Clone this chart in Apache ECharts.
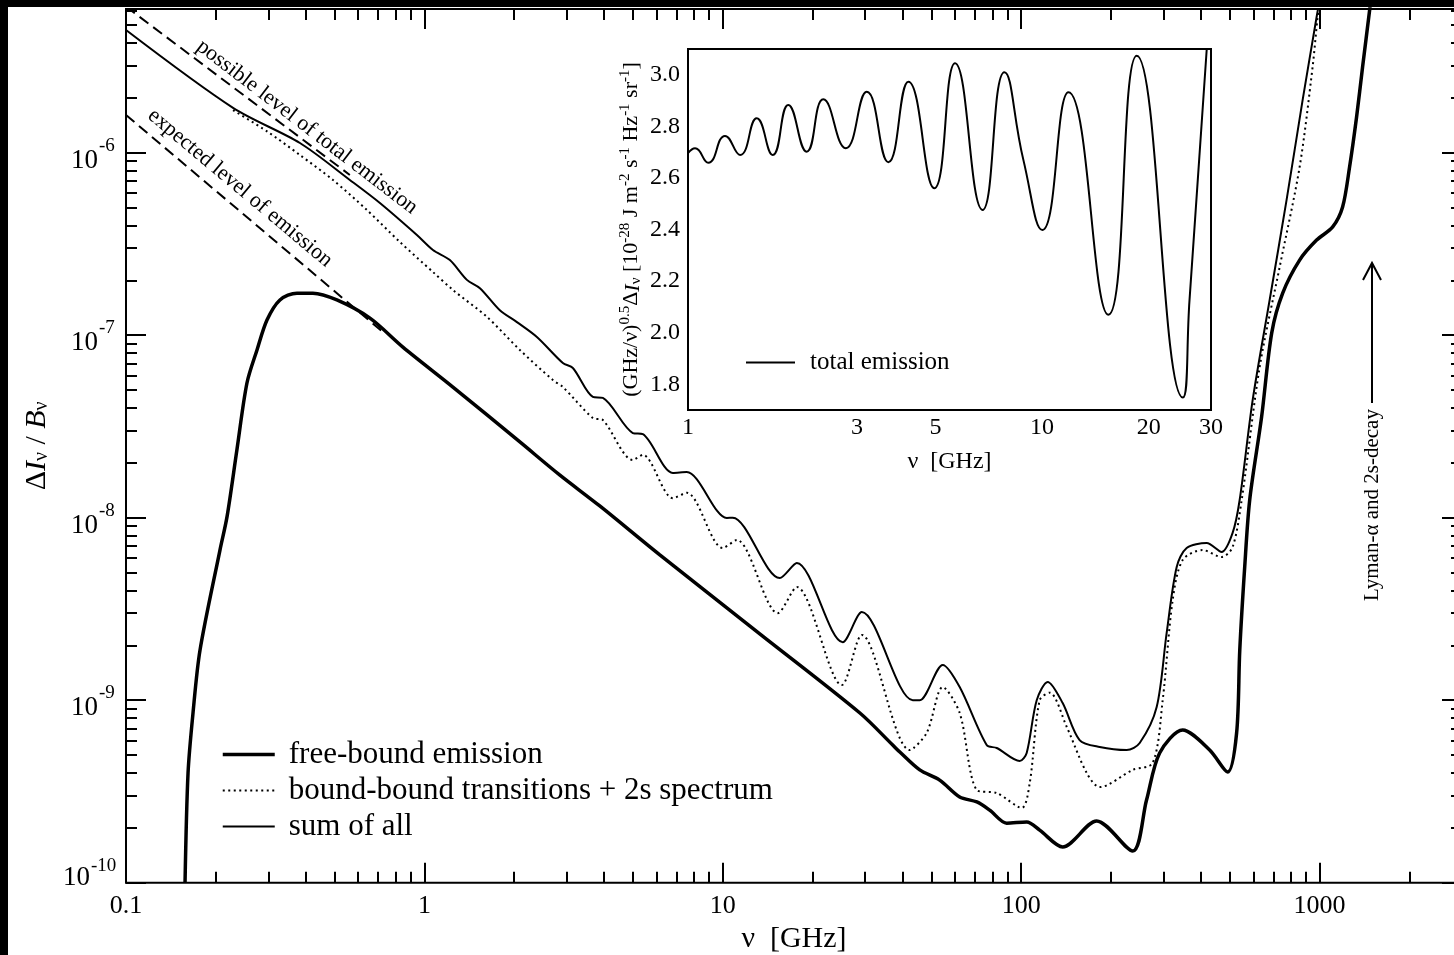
<!DOCTYPE html>
<html><head><meta charset="utf-8">
<script src="https://cdn.jsdelivr.net/npm/echarts@6/dist/echarts.min.js"></script>
<style>html,body{margin:0;padding:0;background:#fff}#c{width:1454px;height:955px}</style>
</head><body><div id="c"></div>
<script>
// ---------------- data ----------------
const fbFreq = [0.1577,0.1614,0.1677,0.177,0.2065,0.218,0.2353,0.2543,0.2748,0.2968,0.328,0.374,0.423,0.509,0.657,0.847,1.246,2.089,2.845,3.87,6.15,13.3,28.8,37.1,39.2,45.7,53.3,62.2,71.0,78.4,89.4,104.3,115.3,137.7,179,236.4,263,291,347.5,428,492,527,540,561,583,639,691,752,857,977,1106,1194,1260,1330,1393,1471,1500];
const fbVal = [1e-10,3.99e-10,8.5e-10,1.88e-9,6.65e-9,1.01e-8,2.35e-8,5.47e-8,8.3e-8,1.21e-7,1.56e-7,1.70e-7,1.70e-7,1.56e-7,1.24e-7,8.61e-8,5.20e-8,2.60e-8,1.71e-8,1.16e-8,6.25e-9,2.31e-9,8.51e-10,5.68e-10,5.20e-10,4.15e-10,3.65e-10,2.95e-10,2.77e-10,2.50e-10,2.12e-10,2.15e-10,1.94e-10,1.57e-10,2.18e-10,1.49e-10,2.84e-10,5.14e-10,6.87e-10,5.34e-10,4.04e-10,6.61e-10,1.88e-9,5.37e-9,1.25e-8,3.56e-8,1.03e-7,1.70e-7,2.58e-7,3.32e-7,3.92e-7,5.04e-7,8.35e-7,1.57e-6,2.95e-6,6.05e-6,8e-6];

const bbFreq = [0.2284,0.2968,0.3827,0.4938,0.642,0.8278,1.068,1.246,1.620,2.089,2.695,2.911,3.668,3.963,4.994,5.395,6.80,7.57,10.0,11.14,15.29,17.70,25.05,29.23,42.3,48.2,54.6,62.2,71.0,82.8,100.4,106.8,115.3,124.6,142.1,165.8,183.2,236.4,275.8,297.9,321.8,347.5,405.5,469.6,511,548,629.5,734.5,857,947.3,984.7,1000];
const bbVal = [1.71e-6,1.31e-6,9.71e-7,7.09e-7,4.85e-7,3.24e-7,2.22e-7,1.77e-7,1.26e-7,8.30e-8,5.68e-8,5.20e-8,3.52e-8,3.43e-8,2.07e-8,2.21e-8,1.28e-8,1.37e-8,6.82e-9,7.55e-9,3.00e-9,4.17e-9,1.21e-9,2.28e-9,5.33e-10,6.61e-10,1.18e-9,8.51e-10,3.22e-10,3.10e-10,2.57e-10,3.52e-10,1.0e-9,1.10e-9,7.13e-10,3.99e-10,3.34e-10,4.15e-10,4.53e-10,1.0e-9,3.54e-9,5.86e-9,6.65e-9,6.09e-9,6.91e-9,1.25e-8,6.69e-8,2.36e-7,8.35e-7,2.95e-6,5.54e-6,6.44e-6];

const sumFreq = [0.1,0.2284,0.3827,0.5625,0.7094,0.9438,1.068,1.217,1.388,1.535,1.790,2.042,2.382,2.911,3.145,3.668,3.963,4.994,5.395,6.80,7.57,10.31,10.80,15.52,17.70,25.23,29.23,43.3,45.7,54.6,62.2,76.6,82.8,98.8,104.3,112.7,122.7,137.7,156.9,183.2,225.6,249.5,284.4,307.2,331.9,358.4,418.2,469.6,511,539.5,596.6,680,775,877,977,1000];
const sumVal = [4.70e-6,1.76e-6,1.13e-6,7.09e-7,5.30e-7,3.54e-7,2.93e-7,2.58e-7,2.01e-7,1.81e-7,1.37e-7,1.18e-7,9.78e-8,7.04e-8,6.61e-8,4.59e-8,4.53e-8,2.91e-8,2.87e-8,1.76e-8,1.78e-8,9.96e-9,1.00e-8,4.67e-9,5.65e-9,2.08e-9,3.04e-9,1.0e-9,1.0e-9,1.56e-9,1.18e-9,5.68e-10,5.47e-10,4.64e-10,5.14e-10,1.0e-9,1.26e-9,9.65e-10,6.05e-10,5.54e-10,5.33e-10,5.83e-10,9.18e-10,2.34e-9,5.37e-9,6.82e-9,7.27e-9,6.49e-9,8.25e-9,1.25e-8,4.42e-8,1.56e-7,5.51e-7,1.94e-6,5.54e-6,6.87e-6];

const possibleFreq = [0.1,0.5625];
const possibleVal = [6.31e-6,7.55e-7];
const expectedFreq = [0.1,0.726];
const expectedVal = [1.61e-6,1.04e-7];

const insetFreq = [1,1.047,1.141,1.272,1.403,1.564,1.735,1.920,2.164,2.411,2.790,3.198,3.680,4.193,4.961,5.679,6.790,7.826,8.855,10.02,11.87,15.39,18.51,24.98,26.09,27.90,29.19];
const insetVal = [2.696,2.715,2.659,2.763,2.689,2.831,2.689,2.883,2.702,2.905,2.715,2.934,2.661,2.973,2.560,3.045,2.476,3.010,2.670,2.398,2.932,2.069,3.074,1.748,2.127,2.709,3.103];

// ticks
const mainXMajor = [0.1,1,10,100,1000];
const mainXMinor = [0.2,0.3,0.4,0.5,0.6,0.7,0.8,0.9,2,3,4,5,6,7,8,9,20,30,40,50,60,70,80,90,200,300,400,500,600,700,800,900,2000,3000];
const mainYMajor = [1e-10,1e-9,1e-8,1e-7,1e-6];
const mainYLabels = [1e-9,1e-8,1e-7,1e-6];
const mainYBottomLabel = [1e-10];
const mainYMinor = [2e-10,3e-10,4e-10,5e-10,6e-10,7e-10,8e-10,9e-10,2e-9,3e-9,4e-9,5e-9,6e-9,7e-9,8e-9,9e-9,2e-8,3e-8,4e-8,5e-8,6e-8,7e-8,8e-8,9e-8,2e-7,3e-7,4e-7,5e-7,6e-7,7e-7,8e-7,9e-7,2e-6,3e-6,4e-6,5e-6,6e-6];
const insetXMajor = [1,3,5,10,20,30];
const insetXMinor = [2,4,6,7,8,9];
const insetYMajor = [1.8,2.0,2.2,2.4,2.6,2.8,3.0];
const insetYMinor = [1.7,1.9,2.1,2.3,2.5,2.7,2.9,3.1];

// ---------------- chart ----------------
const F = '"Liberation Serif","Times New Roman",Times,serif';
const pair = (xs, ys) => xs.map((x, i) => [x, ys[i]]);

function tickAxis(type, gridIndex, min, max, position, values, len, extra) {
  return Object.assign({
    type: type, gridIndex: gridIndex, min: min, max: max, position: position,
    axisLine: {show: false}, splitLine: {show: false}, minorTick: {show: false},
    axisTick: {show: len > 0, inside: true, length: len, customValues: values, lineStyle: {color: '#000', width: 2}},
    axisLabel: {show: false}
  }, extra || {});
}
const fmtNum = v => String(parseFloat(Number(v).toPrecision(4)));
const fmtExp = v => String(Math.round(Math.log10(v)));

// label-only log axis for the power-of-ten labels (mantissa "10" and raised exponent)
function powLabelAxis(values, formatter, size, margin, align, vAlign, lh) {
  return tickAxis('log', 0, 1e-10, 6.13e-6, 'left', [], 0, {
    axisLabel: {show: true, customValues: values, formatter: formatter, fontFamily: F, fontSize: size,
      color: '#000', margin: margin, align: align, verticalAlign: vAlign, lineHeight: lh}
  });
}

const xAxes = [
  tickAxis('log', 0, 0.1, 3000, 'bottom', mainXMajor, 20, {
    axisLabel: {show: true, customValues: mainXMajor, formatter: fmtNum, fontFamily: F, fontSize: 26, color: '#000', margin: 10},
    name: 'ν  [GHz]', nameLocation: 'middle', nameGap: 41,
    nameTextStyle: {fontFamily: F, fontSize: 30, color: '#000'}
  }),
  tickAxis('log', 0, 0.1, 3000, 'bottom', mainXMinor, 11),
  tickAxis('log', 0, 0.1, 3000, 'top', mainXMajor, 20),
  tickAxis('log', 0, 0.1, 3000, 'top', mainXMinor, 11),
  tickAxis('log', 1, 1, 30, 'bottom', insetXMajor, 20, {
    axisLabel: {show: true, customValues: insetXMajor, formatter: fmtNum, fontFamily: F, fontSize: 24, color: '#000', margin: 6},
    name: 'ν  [GHz]', nameLocation: 'middle', nameGap: 40,
    nameTextStyle: {fontFamily: F, fontSize: 24, color: '#000'}
  }),
  tickAxis('log', 1, 1, 30, 'bottom', insetXMinor, 10),
  tickAxis('log', 1, 1, 30, 'top', insetXMajor, 20),
  tickAxis('log', 1, 1, 30, 'top', insetXMinor, 10)
];

const yAxes = [
  tickAxis('log', 0, 1e-10, 6.13e-6, 'left', mainYMajor, 20, {
    name: '{d|Δ}{i|I}{u|ν}{d| / }{i|B}{u|ν}', nameLocation: 'middle', nameRotate: 90, nameGap: 74,
    nameTextStyle: {rich: {
      d: {fontFamily: F, fontSize: 30, color: '#000', lineHeight: 34, verticalAlign: 'bottom'},
      i: {fontFamily: F, fontSize: 30, fontStyle: 'italic', color: '#000', lineHeight: 34, verticalAlign: 'bottom'},
      u: {fontFamily: F, fontSize: 20, color: '#000', lineHeight: 14, verticalAlign: 'bottom'}
    }}
  }),
  tickAxis('log', 0, 1e-10, 6.13e-6, 'left', mainYMinor, 11),
  tickAxis('log', 0, 1e-10, 6.13e-6, 'right', mainYMajor, 20),
  tickAxis('log', 0, 1e-10, 6.13e-6, 'right', mainYMinor, 11),
  tickAxis('value', 1, 1.7, 3.1, 'left', insetYMajor, 20, {
    axisLabel: {show: true, customValues: insetYMajor, formatter: v => Number(v).toFixed(1), fontFamily: F, fontSize: 24, color: '#000', margin: 8},
    name: '(GHz/ν){p|0.5}Δ{i|I}{u|ν} [10{p|-28} J m{p|-2} s{p|-1} Hz{p|-1} sr{p|-1}]',
    nameLocation: 'middle', nameRotate: 90, nameGap: 44,
    nameTextStyle: {fontFamily: F, fontSize: 22, color: '#000', lineHeight: 26, rich: {
      p: {fontFamily: F, fontSize: 15, color: '#000', lineHeight: 8, verticalAlign: 'top'},
      i: {fontFamily: F, fontSize: 22, fontStyle: 'italic', color: '#000', lineHeight: 26, verticalAlign: 'bottom'},
      u: {fontFamily: F, fontSize: 15, color: '#000', lineHeight: 8, verticalAlign: 'bottom'}
    }}
  }),
  tickAxis('value', 1, 1.7, 3.1, 'left', insetYMinor, 10),
  tickAxis('value', 1, 1.7, 3.1, 'right', insetYMajor, 20),
  tickAxis('value', 1, 1.7, 3.1, 'right', insetYMinor, 10),
  // main y labels: "10" mantissa and raised exponent drawn as two label rows
  powLabelAxis(mainYLabels, () => '10', 27, 28, 'right', 'top', 16),
  powLabelAxis(mainYLabels, fmtExp, 19, 27, 'left', 'bottom', 14),
  powLabelAxis(mainYBottomLabel, () => '10', 27, 36, 'right', 'bottom', 9),
  powLabelAxis(mainYBottomLabel, fmtExp, 19, 35, 'left', 'bottom', 34)
];

const line = (name, xs, ys, style, extra) => Object.assign({
  name: name, type: 'line', xAxisIndex: 0, yAxisIndex: 0, data: pair(xs, ys),
  symbol: 'none', showSymbol: false, smooth: 0.3, clip: true,
  itemStyle: {color: 'rgba(0,0,0,0)', borderWidth: 0},
  lineStyle: Object.assign({color: '#000'}, style), silent: true
}, extra || {});

const option = {
  animation: false,
  backgroundColor: '#fff',
  grid: [
    {left: 126, top: 9, width: 1336, height: 873.7, show: true, borderColor: '#000', borderWidth: 2,
     backgroundColor: 'rgba(0,0,0,0)', containLabel: false, outerBoundsMode: 'none'},
    {left: 688, top: 49, width: 523, height: 361, show: true, borderColor: '#000', borderWidth: 2,
     backgroundColor: '#fff', z: 3, containLabel: false, outerBoundsMode: 'none'}
  ],
  xAxis: xAxes,
  yAxis: yAxes,
  legend: [
    {data: [
       {name: 'free-bound emission', lineStyle: {width: 3.5, color: '#000'}},
       {name: 'bound-bound transitions + 2s spectrum', lineStyle: {width: 2, type: [2, 3.5], color: '#000'}},
       {name: 'sum of all', lineStyle: {width: 2, color: '#000'}}
     ],
     orient: 'vertical', left: 216, top: 734, itemWidth: 52, itemHeight: 31, itemGap: 5,
     selectedMode: false, itemStyle: {opacity: 0},
     textStyle: {fontFamily: F, fontSize: 31, color: '#000', padding: [0, 0, 0, 9]}},
    {data: [{name: 'total emission', lineStyle: {width: 2, color: '#000'}}],
     orient: 'vertical', left: 740, top: 345, itemWidth: 49, itemHeight: 26,
     selectedMode: false, itemStyle: {opacity: 0},
     textStyle: {fontFamily: F, fontSize: 25, color: '#000', padding: [0, 0, 0, 10]}}
  ],
  series: [
    line('possible', possibleFreq, possibleVal, {width: 2, type: [11, 6]}, {smooth: false}),
    line('expected', expectedFreq, expectedVal, {width: 2, type: [11, 6]}, {smooth: false}),
    line('free-bound emission', fbFreq, fbVal, {width: 3.5}),
    line('bound-bound transitions + 2s spectrum', bbFreq, bbVal, {width: 2, type: [2, 3.5]}),
    line('sum of all', sumFreq, sumVal, {width: 2}),
    line('total emission', insetFreq, insetVal, {width: 2}, {xAxisIndex: 4, yAxisIndex: 4, smooth: 0.5, z: 5})
  ],
  graphic: [
    {type: 'rect', shape: {x: 0, y: 0, width: 1454, height: 7}, style: {fill: '#000'}, z: 100},
    {type: 'rect', shape: {x: 0, y: 0, width: 8, height: 955}, style: {fill: '#000'}, z: 100},
    {type: 'text', x: 307, y: 127, rotation: -37.5 * Math.PI / 180, z: 50,
     style: {text: 'possible level of total emission', font: '22px ' + F, fill: '#000', textAlign: 'center', textVerticalAlign: 'middle', align: 'center', verticalAlign: 'middle'}},
    {type: 'text', x: 240, y: 188, rotation: -40 * Math.PI / 180, z: 50,
     style: {text: 'expected level of emission', font: '22px ' + F, fill: '#000', textAlign: 'center', textVerticalAlign: 'middle', align: 'center', verticalAlign: 'middle'}},
    {type: 'text', x: 1372, y: 505, rotation: Math.PI / 2, z: 50,
     style: {text: 'Lyman-α and 2s-decay', font: '21px ' + F, fill: '#000', textAlign: 'center', textVerticalAlign: 'middle', align: 'center', verticalAlign: 'middle'}},
    {type: 'line', shape: {x1: 1372, y1: 264, x2: 1372, y2: 403}, style: {stroke: '#000', lineWidth: 2}, z: 50},
    {type: 'polyline', shape: {points: [[1363, 280], [1372, 263], [1381, 280]]}, style: {stroke: '#000', lineWidth: 2, fill: null}, z: 50}
  ]
};

const chart = echarts.init(document.getElementById('c'), null, {renderer: 'canvas'});
chart.setOption(option);
</script>
</body></html>
